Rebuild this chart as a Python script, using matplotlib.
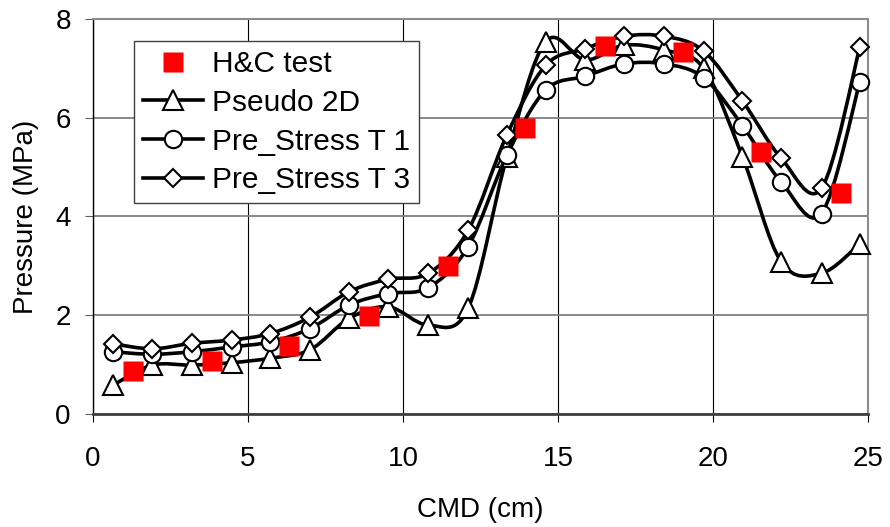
import matplotlib
matplotlib.use("Agg")
import matplotlib.pyplot as plt
from matplotlib.path import Path
from matplotlib.patches import PathPatch
from matplotlib.lines import Line2D

plt.rcParams["font.family"] = ["Liberation Sans", "DejaVu Sans"]
plt.rcParams["font.size"] = 20

# ---- data ------------------------------------------------------------------
hc_x = [1.30, 3.83, 6.32, 8.90, 11.44, 13.95, 16.50, 19.04, 21.56, 24.14]
hc_y = [0.87, 1.07, 1.38, 1.99, 3.00, 5.80, 7.46, 7.34, 5.31, 4.47]

sim_x = [0.66, 1.91, 3.18, 4.49, 5.72, 7.00, 8.27, 9.53, 10.82, 12.10,
         13.35, 14.60, 15.88, 17.13, 18.43, 19.70, 20.95, 22.20, 23.50, 24.74]
pseudo2d = [0.59, 0.99, 0.99, 1.04, 1.13, 1.30, 1.94, 2.17, 1.80, 2.14,
            5.21, 7.54, 7.17, 7.47, 7.37, 7.00, 5.21, 3.08, 2.85, 3.45]
pre_t1 = [1.26, 1.21, 1.26, 1.36, 1.46, 1.73, 2.21, 2.44, 2.56, 3.39,
          5.24, 6.56, 6.84, 7.09, 7.09, 6.81, 5.84, 4.70, 4.06, 6.73]
pre_t3 = [1.42, 1.32, 1.43, 1.50, 1.63, 1.96, 2.48, 2.73, 2.85, 3.72,
          5.65, 7.06, 7.40, 7.65, 7.65, 7.35, 6.34, 5.18, 4.57, 7.44]

x_ticks = [0, 5, 10, 15, 20, 25]
y_ticks = [0, 2, 4, 6, 8]


def smooth_path(xs, ys):
    """Excel-like smoothed line: Catmull-Rom segments as cubic Beziers."""
    pts = list(zip(xs, ys))
    n = len(pts)
    verts = [pts[0]]
    codes = [Path.MOVETO]
    for i in range(n - 1):
        p0 = pts[i - 1] if i > 0 else pts[i]
        p1 = pts[i]
        p2 = pts[i + 1]
        p3 = pts[i + 2] if i + 2 < n else pts[i + 1]
        c1 = (p1[0] + (p2[0] - p0[0]) / 6, p1[1] + (p2[1] - p0[1]) / 6)
        c2 = (p2[0] - (p3[0] - p1[0]) / 6, p2[1] - (p3[1] - p1[1]) / 6)
        verts += [c1, c2, p2]
        codes += [Path.CURVE4] * 3
    return Path(verts, codes)


fig = plt.figure(figsize=(8.9, 5.27), dpi=100)
ax = fig.add_axes([0.1045, 0.2144, 0.8708, 0.7496])

LW = 2.6
series = [
    (pseudo2d, "^", 14.0, "Pseudo 2D"),
    (pre_t1, "o", 12.5, "Pre_Stress T 1"),
    (pre_t3, "D", 9.3, "Pre_Stress T 3"),
]
handles = [Line2D([], [], ls="none", marker="s", ms=14.5, mfc="#ff0000",
                  mec="none", label="H&C test")]
for z, (ys, mk, ms, lab) in enumerate(series):
    ax.add_patch(PathPatch(smooth_path(sim_x, ys), fill=False, ec="black",
                           lw=LW, zorder=3 + z, capstyle="round",
                           joinstyle="round"))
    ax.plot(sim_x, ys, ls="none", marker=mk, ms=ms, mfc="white",
            mec="black", mew=1.5, zorder=3 + z, clip_on=False)
    handles.append(Line2D([], [], color="black", lw=LW, marker=mk, ms=ms,
                          mfc="white", mec="black", mew=1.5, label=lab))

ax.plot(hc_x, hc_y, ls="none", marker="s", ms=14.5, mfc="#ff0000",
        mec="none", zorder=10)

ax.set_xlim(0, 25)
ax.set_ylim(0, 8)
ax.set_xticks(x_ticks)
ax.set_yticks(y_ticks)

ax.grid(axis="y", color="#808080", lw=1.3)
ax.grid(axis="x", color="black", lw=0.8)
ax.set_axisbelow(True)

for side in ("top", "right"):
    ax.spines[side].set_color("#8c8c8c")
    ax.spines[side].set_linewidth(1.5)
ax.spines["left"].set_color("black")
ax.spines["left"].set_linewidth(1.0)
ax.spines["bottom"].set_color("#404040")
ax.spines["bottom"].set_linewidth(2.0)

ax.tick_params(axis="x", direction="out", length=6, width=0.8, pad=17)
ax.tick_params(axis="y", direction="out", length=6, width=0.8, pad=10,
               color="#606060")

ax.set_xlabel("CMD (cm)", labelpad=18)
ax.set_ylabel("Pressure (MPa)", labelpad=12)

leg = ax.legend(handles=handles, loc="upper left",
                bbox_to_anchor=(0.053, 0.944), borderaxespad=0,
                frameon=True, fancybox=False, framealpha=1,
                edgecolor="#404040", handlelength=2.0, handletextpad=0.3,
                labelspacing=0.36, borderpad=0.3, fontsize=21.5)
leg.get_frame().set_linewidth(1.0)
leg.set_zorder(20)

fig.savefig("out.png", dpi=100)
